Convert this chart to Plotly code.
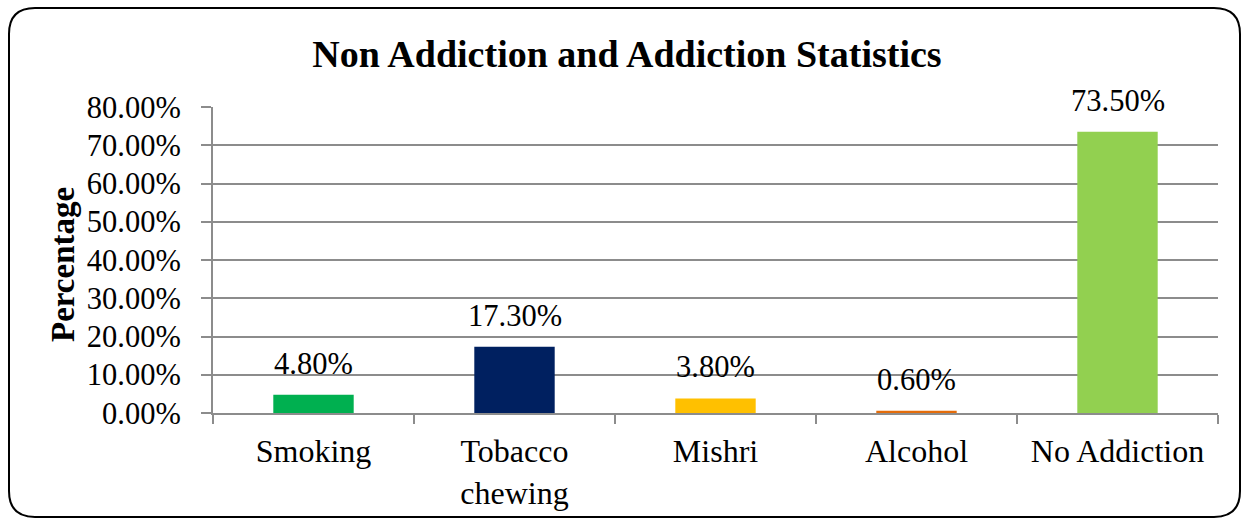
import plotly.graph_objects as go

# Chart data
categories = ["Smoking", "Tobacco<br>chewing", "Mishri", "Alcohol", "No Addiction"]
percentages = [4.80, 17.30, 3.80, 0.60, 73.50]
bar_colors = ["#00B050", "#002060", "#FFC000", "#E46C0A", "#92D050"]
y_ticks = [0, 10, 20, 30, 40, 50, 60, 70, 80]
y_tick_labels = [f"{v:.2f}%" for v in y_ticks]

W, H = 1243, 519
L, R, T, B = 213, 25, 107, 106
plot_w = W - L - R
plot_h = H - T - B

FONT = "Liberation Serif, Times New Roman, serif"
GRID = "#8C8C8C"


def px_to_paper(px, py):
    return (px - L) / plot_w, (H - B - py) / plot_h


fig = go.Figure()
fig.add_trace(go.Bar(
    x=categories,
    y=percentages,
    marker=dict(color=bar_colors, line=dict(width=0)),
    width=0.4,
    hoverinfo="skip",
))

# Value labels above each bar
for cat, val in zip(categories, percentages):
    fig.add_annotation(
        x=cat, y=val, xref="x", yref="y",
        text=f"{val:.2f}%",
        showarrow=False, yanchor="bottom", yshift=12,
        font=dict(family=FONT, size=30.5, color="#000000"),
    )

# Rotated y-axis title
tx, ty = px_to_paper(63, 265)
fig.add_annotation(
    x=tx, y=ty, xref="paper", yref="paper",
    text="<b>Percentage</b>", textangle=-90, showarrow=False,
    xanchor="center", yanchor="middle",
    font=dict(family=FONT, size=33, color="#000000"),
)

# Rounded outer frame
x0, y0, x1, y1, r = 9, 8, 1240, 517, 26
pts = {
    "a": px_to_paper(x0 + r, y0), "b": px_to_paper(x1 - r, y0),
    "c": px_to_paper(x1, y0), "d": px_to_paper(x1, y0 + r),
    "e": px_to_paper(x1, y1 - r), "f": px_to_paper(x1, y1),
    "g": px_to_paper(x1 - r, y1), "h": px_to_paper(x0 + r, y1),
    "i": px_to_paper(x0, y1), "j": px_to_paper(x0, y1 - r),
    "k": px_to_paper(x0, y0 + r), "l": px_to_paper(x0, y0),
}
p = lambda k: f"{pts[k][0]:.6f},{pts[k][1]:.6f}"
path = (f"M {p('a')} L {p('b')} Q {p('c')} {p('d')} L {p('e')} Q {p('f')} {p('g')} "
        f"L {p('h')} Q {p('i')} {p('j')} L {p('k')} Q {p('l')} {p('a')} Z")
fig.add_shape(type="path", path=path, xref="paper", yref="paper",
              line=dict(color="#000000", width=2), fillcolor="rgba(0,0,0,0)", layer="above")

fig.update_layout(
    width=W, height=H,
    margin=dict(l=L, r=R, t=T, b=B, autoexpand=False),
    paper_bgcolor="#FFFFFF", plot_bgcolor="#FFFFFF",
    showlegend=False,
    title=dict(
        text="<b>Non Addiction and Addiction Statistics</b>",
        x=627 / W, xanchor="center", xref="container",
        y=1 - 54 / H, yanchor="middle", yref="container",
        font=dict(family=FONT, size=38, color="#000000"),
    ),
    font=dict(family=FONT, color="#000000"),
    bargap=0.6,
)

fig.update_xaxes(
    automargin=False,
    showline=True, linecolor=GRID, linewidth=2,
    ticks="outside", tickson="boundaries", ticklen=9, tickcolor=GRID, tickwidth=2,
    tickfont=dict(family=FONT, size=32, color="#000000"),
    ticklabelstandoff=9,
    showgrid=False,
)
fig.update_yaxes(
    automargin=False,
    range=[0, 80], tickvals=y_ticks, ticktext=y_tick_labels,
    showline=True, linecolor=GRID, linewidth=2,
    ticks="outside", ticklen=10, tickcolor=GRID, tickwidth=2,
    showgrid=True, gridcolor=GRID, gridwidth=2,
    zeroline=False,
    tickfont=dict(family=FONT, size=30.5, color="#000000"),
    ticklabelstandoff=14,
)

fig.write_html("out.html")
